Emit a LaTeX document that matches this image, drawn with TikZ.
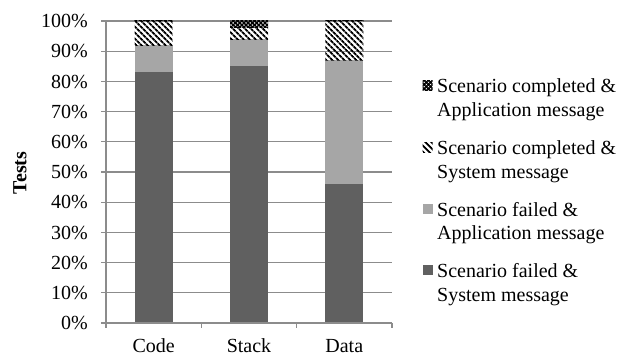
\documentclass[tikz,border=0pt]{standalone}
\usepackage{fontspec}
\setmainfont{Liberation Serif}
\usetikzlibrary{positioning,patterns.meta}

\definecolor{darkbar}{HTML}{606060}
\definecolor{lightbar}{HTML}{A6A6A6}
\definecolor{gridgray}{HTML}{8C8C8C}

\begin{document}
\begin{tikzpicture}[
    x=1pt, y=1pt,
    font=\fontsize{20}{23.5}\selectfont,
    gridline/.style={draw=gridgray, line width=1.3pt},
    failsys/.style={fill=darkbar},
    failapp/.style={fill=lightbar},
    compsys/.style={pattern={Lines[angle=-45, distance=4pt, line width=2pt]}},
    compapp/.style={pattern={Hatch[angle=45, distance=3pt, line width=1.5pt]}},
    ticklabel/.style={anchor=east, inner sep=0pt, text height=13.5pt, text depth=0pt},
    catlabel/.style={anchor=base, inner sep=0pt},
    legtext/.style={anchor=base west, inner sep=0pt, align=left},
    legmark/.style={minimum size=10pt, inner sep=0pt},
]
    \useasboundingbox (0,0) rectangle (624,356);

    % grid and value axis (0% at y=33, 3.02 per percent)
    \foreach \p in {10,20,...,100}
        \draw[gridline] (106,{33+3.02*\p}) -- (392,{33+3.02*\p});
    \foreach \p in {0,10,...,100} {
        \draw[gridline] (101,{33+3.02*\p}) -- (106,{33+3.02*\p});
        \node[ticklabel] (y\p) at (88,{33+3.02*\p}) {\p\%};
    }
    \draw[gridline] (106,33) -- (106,335);

    % stacked bars
    \foreach \name/\cx/\a/\b/\c in {Code/153.7/83/92/100, Stack/249/85/94/98, Data/344.3/46/87/100} {
        \fill[failsys] ({\cx-19},33) rectangle ({\cx+19},{33+3.02*\a});
        \fill[failapp] ({\cx-19},{33+3.02*\a}) rectangle ({\cx+19},{33+3.02*\b});
        \fill[compsys] ({\cx-19},{33+3.02*\b}) rectangle ({\cx+19},{33+3.02*\c});
        \fill[compapp] ({\cx-19},{33+3.02*\c}) rectangle ({\cx+19},335);
        \node[catlabel] (\name) at (\cx,3) {\name};
    }

    % category axis
    \draw[gridline] (106,33) -- (392,33);
    \foreach \x in {106,201.3,296.7,392}
        \draw[gridline] (\x,33) -- (\x,28);

    \node[rotate=90, font=\fontsize{20}{23.5}\selectfont\bfseries] (ylab) at (20,183) {Tests};

    % legend (base anchor sits on the second line)
    \node[legtext] (leg1) at (437,239.5) {Scenario completed \&\\Application message};
    \node[legtext] (leg2) at (437,177.5) {Scenario completed \&\\System message};
    \node[legtext] (leg3) at (437,116) {Scenario failed \&\\Application message};
    \node[legtext] (leg4) at (437,54.5) {Scenario failed \&\\System message};
    \node[legmark, compapp] (mk1) at (427.5,270.5) {};
    \node[legmark, compsys] (mk2) at (427.5,208.5) {};
    \node[legmark, failapp] (mk3) at (427.5,147) {};
    \node[legmark, failsys] (mk4) at (427.5,85.5) {};
\end{tikzpicture}
\end{document}
